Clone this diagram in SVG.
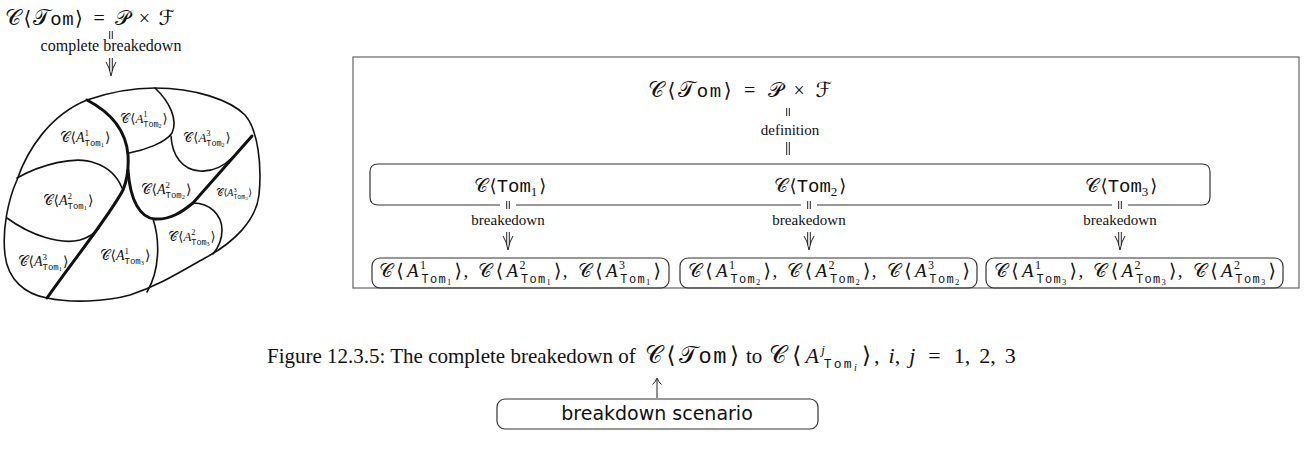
<svg xmlns="http://www.w3.org/2000/svg" width="1314" height="460" viewBox="0 0 1314 460">
<style>
.s{font-family:"Liberation Serif","DejaVu Serif",serif;fill:#111}
.sc{font-family:"DejaVu Serif","DejaVu Sans","Noto Sans",serif}
.tt{font-family:"Liberation Mono","DejaVu Sans Mono",monospace}
.it{font-style:italic}
.ln{fill:none;stroke:#111;stroke-width:1.6;stroke-linecap:round}
.thk{fill:none;stroke:#111;stroke-width:3;stroke-linecap:round}
.bx{fill:none;stroke:#333;stroke-width:1.2}
.ob{fill:none;stroke:#666;stroke-width:1.2}
.cn{fill:none;stroke:#222;stroke-width:1}
.sans{font-family:"DejaVu Sans","Liberation Sans",sans-serif;fill:#111}
</style>
<defs>
<g id="dbar"><path class="cn" d="M-1.3,0V8M1.3,0V8"/></g>
<g id="darr"><path class="cn" d="M-1.3,0V13M1.3,0V13"/><path class="cn" d="M-5,4Q-1.5,9 0,18Q1.5,9 5,4"/></g>
</defs>

<g id="leftFormula">
<text x="5" y="25" class="s" font-size="20" textLength="170" lengthAdjust="spacing"><tspan class="sc" font-size="22">𝒞</tspan><tspan dx="2">⟨</tspan><tspan class="sc" dx="1" font-size="22">𝒯</tspan><tspan class="tt" font-size="19">om</tspan><tspan dx="1">⟩</tspan><tspan dx="10">=</tspan><tspan class="sc" dx="10" font-size="21">𝒫</tspan><tspan dx="8">×</tspan><tspan class="sc" dx="8" font-size="21">ℱ</tspan></text>
</g>
<g id="leftLabel">
<text x="111" y="51" class="s" font-size="16" text-anchor="middle">complete breakedown</text>
</g>
<g id="blob">
<path class="ln" d="M87,100 C110,92 130,88 155,88 C195,88 230,100 245,115 C258,130 262,165 259,195 C256,220 235,242 205,258 C180,272 160,285 130,295 C105,302 70,303 47,298 C25,294 8,280 5,255 C2,230 8,200 17,180 C27,150 50,115 87,100 Z"/>
<path class="thk" d="M87,100 C110,112 126,130 128,155 C129,170 127,180 123,190 C110,215 75,258 47,298"/>
<path class="thk" d="M128,170 C130,200 140,218 155,219 C170,220 182,212 193,203 L252,136"/>
<path class="ln" d="M155,88 C170,102 178,120 172,133 C165,143 145,150 129,153"/>
<path class="ln" d="M171,136 C172,155 182,170 200,171 C215,172 225,165 233,157"/>
<path class="ln" d="M17,178 C40,165 75,155 95,163 C110,168 118,178 122,188"/>
<path class="ln" d="M7,218 C30,235 60,245 80,240 C90,237 96,232 99,228"/>
<path class="ln" d="M153,219 C160,240 160,270 147,292"/>
<path class="ln" d="M193,203 C210,203 222,215 222,230 C222,240 218,248 213,254"/>
<g font-size="14" class="s" text-anchor="middle">
<text x="144" y="123" font-size="13"><tspan class="sc">𝒞</tspan><tspan dx="1">⟨</tspan><tspan class="it">A</tspan><tspan dy="-6" font-size="8.5">1</tspan><tspan dx="-4.3" dy="9.5" class="tt" font-size="8.5">Tom</tspan><tspan dy="1.5" font-size="6">2</tspan><tspan dx="1" dy="-5">⟩</tspan></text>
<text x="85" y="142"><tspan class="sc">𝒞</tspan><tspan dx="1">⟨</tspan><tspan class="it">A</tspan><tspan dy="-6.5" font-size="9">1</tspan><tspan dx="-4.5" dy="10" class="tt" font-size="9">Tom</tspan><tspan dy="1.5" font-size="6.5">1</tspan><tspan dx="1" dy="-5">⟩</tspan></text>
<text x="207" y="142" font-size="13"><tspan class="sc">𝒞</tspan><tspan dx="1">⟨</tspan><tspan class="it">A</tspan><tspan dy="-6" font-size="8.5">3</tspan><tspan dx="-4.3" dy="9.5" class="tt" font-size="8.5">Tom</tspan><tspan dy="1.5" font-size="6">2</tspan><tspan dx="1" dy="-5">⟩</tspan></text>
<text x="68" y="205"><tspan class="sc">𝒞</tspan><tspan dx="1">⟨</tspan><tspan class="it">A</tspan><tspan dy="-6.5" font-size="9">2</tspan><tspan dx="-4.5" dy="10" class="tt" font-size="9">Tom</tspan><tspan dy="1.5" font-size="6.5">1</tspan><tspan dx="1" dy="-5">⟩</tspan></text>
<text x="166" y="194"><tspan class="sc">𝒞</tspan><tspan dx="1">⟨</tspan><tspan class="it">A</tspan><tspan dy="-6.5" font-size="9">2</tspan><tspan dx="-4.5" dy="10" class="tt" font-size="9">Tom</tspan><tspan dy="1.5" font-size="6.5">2</tspan><tspan dx="1" dy="-5">⟩</tspan></text>
<text x="192" y="241" font-size="13"><tspan class="sc">𝒞</tspan><tspan dx="1">⟨</tspan><tspan class="it">A</tspan><tspan dy="-6" font-size="8.5">2</tspan><tspan dx="-4.3" dy="9.5" class="tt" font-size="8.5">Tom</tspan><tspan dy="1.5" font-size="6">3</tspan><tspan dx="1" dy="-5">⟩</tspan></text>
<text x="125" y="260"><tspan class="sc">𝒞</tspan><tspan dx="1">⟨</tspan><tspan class="it">A</tspan><tspan dy="-6.5" font-size="9">1</tspan><tspan dx="-4.5" dy="10" class="tt" font-size="9">Tom</tspan><tspan dy="1.5" font-size="6.5">3</tspan><tspan dx="1" dy="-5">⟩</tspan></text>
<text x="43" y="266"><tspan class="sc">𝒞</tspan><tspan dx="1">⟨</tspan><tspan class="it">A</tspan><tspan dy="-6.5" font-size="9">3</tspan><tspan dx="-4.5" dy="10" class="tt" font-size="9">Tom</tspan><tspan dy="1.5" font-size="6.5">1</tspan><tspan dx="1" dy="-5">⟩</tspan></text>
</g>
<text x="234" y="196" font-size="10" class="s" text-anchor="middle"><tspan class="sc">𝒞</tspan><tspan dx="0.5">⟨</tspan><tspan class="it">A</tspan><tspan dy="-4.5" font-size="6.5">3</tspan><tspan dx="-3.3" dy="7.5" class="tt" font-size="6.5">Tom</tspan><tspan dy="1" font-size="5">3</tspan><tspan dx="0.5" dy="-4">⟩</tspan></text>
</g>

<g id="panel"><rect class="ob" x="353" y="57" width="946" height="231"/></g>
<g id="topFormula">
<text x="648" y="97" class="s" font-size="20" textLength="184" lengthAdjust="spacing"><tspan class="sc" font-size="22">𝒞</tspan><tspan dx="2">⟨</tspan><tspan class="sc" dx="1" font-size="22">𝒯</tspan><tspan class="tt" font-size="19">om</tspan><tspan dx="1">⟩</tspan><tspan dx="11">=</tspan><tspan class="sc" dx="11" font-size="21">𝒫</tspan><tspan dx="9">×</tspan><tspan class="sc" dx="9" font-size="21">ℱ</tspan></text>
</g>
<g id="rowBox">
<path class="bx" d="M500,205 H378 Q370,205 370,197 V172 Q370,164 378,164 H1202 Q1210,164 1210,172 V197 Q1210,205 1202,205 H1128 M1112,205 H817 M801,205 H516"/>
<g class="s" font-size="18" text-anchor="middle">
<text x="510" y="192"><tspan class="sc" font-size="19">𝒞</tspan><tspan dx="2">⟨</tspan><tspan class="tt" font-size="19">Tom</tspan><tspan dy="3.5" font-size="13">1</tspan><tspan dx="2" dy="-3.5">⟩</tspan></text>
<text x="810" y="192"><tspan class="sc" font-size="19">𝒞</tspan><tspan dx="2">⟨</tspan><tspan class="tt" font-size="19">Tom</tspan><tspan dy="3.5" font-size="13">2</tspan><tspan dx="2" dy="-3.5">⟩</tspan></text>
<text x="1121" y="192"><tspan class="sc" font-size="19">𝒞</tspan><tspan dx="2">⟨</tspan><tspan class="tt" font-size="19">Tom</tspan><tspan dy="3.5" font-size="13">3</tspan><tspan dx="2" dy="-3.5">⟩</tspan></text>
</g>
</g>
<g id="box1">
<rect class="bx" x="372" y="258" width="297" height="30" rx="8"/>
<text x="520" y="277" class="s" font-size="19" text-anchor="middle" textLength="282" lengthAdjust="spacing"><tspan class="sc">𝒞</tspan><tspan dx="2">⟨</tspan><tspan class="it" dx="2">A</tspan><tspan dy="-8" font-size="12">1</tspan><tspan dx="-6" dy="13.5" class="tt" font-size="12">Tom</tspan><tspan dy="2" font-size="8.5">1</tspan><tspan dx="2" dy="-7.5">⟩</tspan>,<tspan dx="9" class="sc">𝒞</tspan><tspan dx="2">⟨</tspan><tspan class="it" dx="2">A</tspan><tspan dy="-8" font-size="12">2</tspan><tspan dx="-6" dy="13.5" class="tt" font-size="12">Tom</tspan><tspan dy="2" font-size="8.5">1</tspan><tspan dx="2" dy="-7.5">⟩</tspan>,<tspan dx="9" class="sc">𝒞</tspan><tspan dx="2">⟨</tspan><tspan class="it" dx="2">A</tspan><tspan dy="-8" font-size="12">3</tspan><tspan dx="-6" dy="13.5" class="tt" font-size="12">Tom</tspan><tspan dy="2" font-size="8.5">1</tspan><tspan dx="2" dy="-7.5">⟩</tspan></text>
</g>
<g id="box2">
<rect class="bx" x="680" y="258" width="297" height="30" rx="8"/>
<text x="829" y="277" class="s" font-size="19" text-anchor="middle" textLength="282" lengthAdjust="spacing"><tspan class="sc">𝒞</tspan><tspan dx="2">⟨</tspan><tspan class="it" dx="2">A</tspan><tspan dy="-8" font-size="12">1</tspan><tspan dx="-6" dy="13.5" class="tt" font-size="12">Tom</tspan><tspan dy="2" font-size="8.5">2</tspan><tspan dx="2" dy="-7.5">⟩</tspan>,<tspan dx="9" class="sc">𝒞</tspan><tspan dx="2">⟨</tspan><tspan class="it" dx="2">A</tspan><tspan dy="-8" font-size="12">2</tspan><tspan dx="-6" dy="13.5" class="tt" font-size="12">Tom</tspan><tspan dy="2" font-size="8.5">2</tspan><tspan dx="2" dy="-7.5">⟩</tspan>,<tspan dx="9" class="sc">𝒞</tspan><tspan dx="2">⟨</tspan><tspan class="it" dx="2">A</tspan><tspan dy="-8" font-size="12">3</tspan><tspan dx="-6" dy="13.5" class="tt" font-size="12">Tom</tspan><tspan dy="2" font-size="8.5">2</tspan><tspan dx="2" dy="-7.5">⟩</tspan></text>
</g>
<g id="box3">
<rect class="bx" x="986" y="258" width="297" height="30" rx="8"/>
<text x="1135" y="277" class="s" font-size="19" text-anchor="middle" textLength="282" lengthAdjust="spacing"><tspan class="sc">𝒞</tspan><tspan dx="2">⟨</tspan><tspan class="it" dx="2">A</tspan><tspan dy="-8" font-size="12">1</tspan><tspan dx="-6" dy="13.5" class="tt" font-size="12">Tom</tspan><tspan dy="2" font-size="8.5">3</tspan><tspan dx="2" dy="-7.5">⟩</tspan>,<tspan dx="9" class="sc">𝒞</tspan><tspan dx="2">⟨</tspan><tspan class="it" dx="2">A</tspan><tspan dy="-8" font-size="12">2</tspan><tspan dx="-6" dy="13.5" class="tt" font-size="12">Tom</tspan><tspan dy="2" font-size="8.5">3</tspan><tspan dx="2" dy="-7.5">⟩</tspan>,<tspan dx="9" class="sc">𝒞</tspan><tspan dx="2">⟨</tspan><tspan class="it" dx="2">A</tspan><tspan dy="-8" font-size="12">2</tspan><tspan dx="-6" dy="13.5" class="tt" font-size="12">Tom</tspan><tspan dy="2" font-size="8.5">3</tspan><tspan dx="2" dy="-7.5">⟩</tspan></text>
</g>

<g id="connectors">
<use href="#dbar" x="111" y="31"/>
<use href="#darr" x="111" y="58"/>
<use href="#dbar" x="788" y="108"/>
<path class="cn" d="M786.7,142V155M789.3,142V155"/>
<text x="790" y="135" class="s" font-size="15" text-anchor="middle">definition</text>
<use href="#dbar" x="508" y="201"/>
<use href="#dbar" x="809" y="201"/>
<use href="#dbar" x="1120" y="201"/>
<g class="s" font-size="15" text-anchor="middle">
<text x="508" y="225">breakedown</text>
<text x="809" y="225">breakedown</text>
<text x="1120" y="225">breakedown</text>
</g>
<use href="#darr" x="508" y="232"/>
<use href="#darr" x="809" y="232"/>
<use href="#darr" x="1120" y="232"/>
<path class="cn" d="M657,398V379M652.5,384.5Q655.5,382 657,378Q658.5,382 661.5,384.5"/>
</g>

<g id="caption" class="s" font-size="21">
<text x="267" y="363">Figure 12.3.5: The complete breakedown of</text>
<text x="645" y="363" textLength="94" lengthAdjust="spacing"><tspan class="sc" font-size="24">𝒞</tspan><tspan dx="2" font-size="23">⟨</tspan><tspan class="sc" dx="2" font-size="24">𝒯</tspan><tspan class="tt" font-size="22">om</tspan><tspan dx="2" font-size="23">⟩</tspan></text>
<text x="746" y="363">to</text>
<text x="769" y="363" textLength="102" lengthAdjust="spacing"><tspan class="sc" font-size="24">𝒞</tspan><tspan dx="3" font-size="23">⟨</tspan><tspan class="it" dx="2" font-size="22">A</tspan><tspan dy="-9" font-size="13" class="it">j</tspan><tspan dx="-3.6" dy="14" class="tt" font-size="13">Tom</tspan><tspan dy="2.5" font-size="10" class="it">i</tspan><tspan dx="3" dy="-7.5" font-size="23">⟩</tspan></text>
<text x="874" y="363" font-size="22">,<tspan dx="9" class="it">i</tspan>,<tspan dx="9" class="it">j</tspan><tspan dx="13">=</tspan><tspan dx="13">1,</tspan><tspan dx="9">2,</tspan><tspan dx="9">3</tspan></text>
</g>
<g id="scenario">
<rect class="bx" x="497" y="399" width="321" height="30" rx="8"/>
<text x="657" y="420" class="sans" font-size="19" text-anchor="middle">breakdown scenario</text>
</g>
</svg>
